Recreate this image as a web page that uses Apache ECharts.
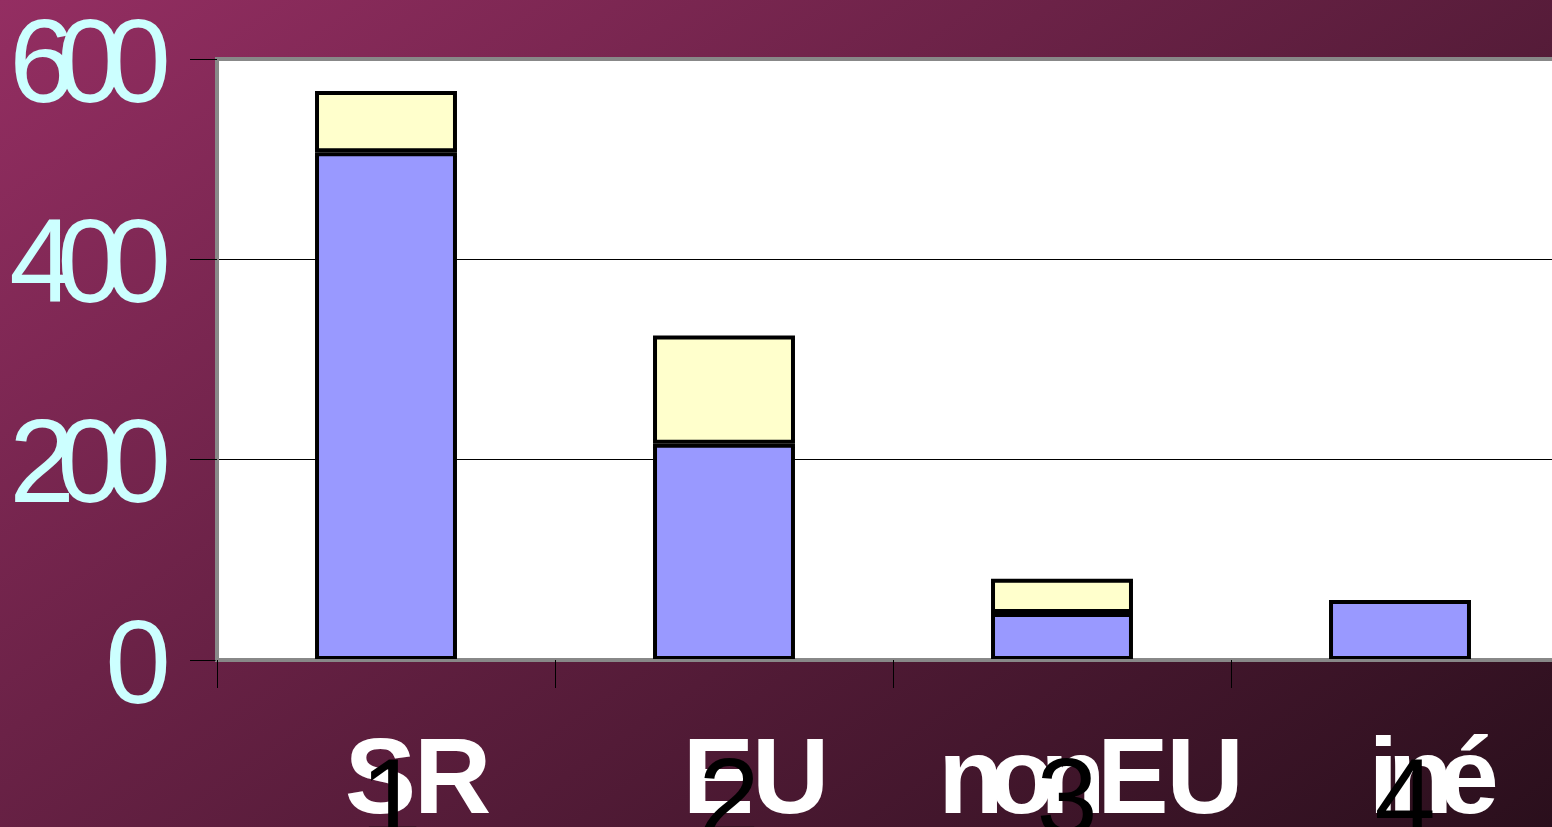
<!DOCTYPE html>
<html><head><meta charset="utf-8">
<script src="https://cdn.jsdelivr.net/npm/echarts@6/dist/echarts.min.js"></script>
<style>html,body{margin:0;padding:0;width:1552px;height:827px;overflow:hidden;background:#000}#c{width:1552px;height:827px}</style>
</head><body><div id="c"></div>
<script>
// ---- data ----
const categories = ['SR', 'EU', 'nonEU', 'iné'];
const categoryNumbers = ['1', '2', '3', '4'];
const seriesBlue = [507, 216, 47, 60];
const seriesYellow = [61, 108, 34, 0];
const yTickLabels = ['0', '200', '400', '600'];

// ---- styling helpers ----
const FONT = "'Liberation Sans', Arial, sans-serif";
const NAME_SIZE = 107;
const measureCtx = document.createElement('canvas').getContext('2d');
measureCtx.font = 'bold ' + NAME_SIZE + 'px ' + FONT;

const yRich = { d: { width: 48, fontSize: 118, color: '#ccffff', fontFamily: FONT } };
function squeezeDigits(str) { return str.split('').map(ch => '{d|' + ch + '}').join(''); }

const nameRich = {};
function nameKey(ch) {
  const k = 'n' + ch.charCodeAt(0);
  if (!nameRich[k]) {
    const w = measureCtx.measureText(ch).width;
    const lower = ch !== ch.toUpperCase();
    nameRich[k] = { width: lower ? w * 0.78 : w * 0.97, fontSize: NAME_SIZE, fontWeight: 'bold', color: '#ffffff', fontFamily: FONT };
  }
  return k;
}
function squeezeName(str) { return str.split('').map(ch => '{' + nameKey(ch) + '|' + ch + '}').join(''); }
categories.forEach(squeezeName);

const chart = echarts.init(document.getElementById('c'), null, { renderer: 'canvas' });
chart.setOption({
  animation: false,
  backgroundColor: {
    type: 'linear', x: 0, y: 0, x2: 0.576, y2: 1.553,
    colorStops: [{ offset: 0, color: '#942e62' }, { offset: 1, color: '#2a0f1c' }]
  },
  grid: {
    left: 217, top: 59, right: -17, bottom: 167,
    show: true, backgroundColor: '#ffffff', borderColor: '#888888', borderWidth: 4,
    containLabel: false, outerBoundsMode: 'none'
  },
  xAxis: [
    {
      type: 'category', data: categoryNumbers, position: 'bottom', z: 4,
      axisLine: { show: true, lineStyle: { color: '#888888', width: 3 } },
      axisTick: { show: true, alignWithLabel: false, length: 28, lineStyle: { color: '#000', width: 1 } },
      axisLabel: { show: true, margin: 90, fontSize: 110, color: '#000000', fontFamily: FONT, interval: 0, padding: [0, 0, 0, 10] },
      splitLine: { show: false }
    },
    {
      type: 'category', data: categories, position: 'bottom', z: 3,
      axisLine: { show: false }, axisTick: { show: false },
      axisLabel: {
        show: true, margin: 70, interval: 0, padding: [0, 0, 0, 64],
        formatter: v => squeezeName(v), rich: nameRich
      },
      splitLine: { show: false }
    }
  ],
  yAxis: {
    type: 'value', min: 0, max: 600, interval: 200,
    axisLine: { show: true, lineStyle: { color: '#888888', width: 3 } },
    axisTick: { show: true, length: 27, lineStyle: { color: '#000', width: 1 } },
    axisLabel: {
      margin: 46, padding: [20, 0, 0, 0], formatter: v => squeezeDigits(String(v)), rich: yRich
    },
    splitLine: { show: true, lineStyle: { color: ['#888888', '#000000', '#000000', '#888888'], width: 1 } }
  },
  series: [
    {
      type: 'bar', stack: 'a', xAxisIndex: 0, data: seriesBlue, barWidth: '42%',
      itemStyle: { color: '#9999ff', borderColor: '#000', borderWidth: 4 }
    },
    {
      type: 'bar', stack: 'a', xAxisIndex: 0, data: seriesYellow.map(v => v === 0 ? '-' : v), barWidth: '42%',
      itemStyle: { color: '#ffffcc', borderColor: '#000', borderWidth: 4 }
    }
  ]
});
</script>
</body></html>
